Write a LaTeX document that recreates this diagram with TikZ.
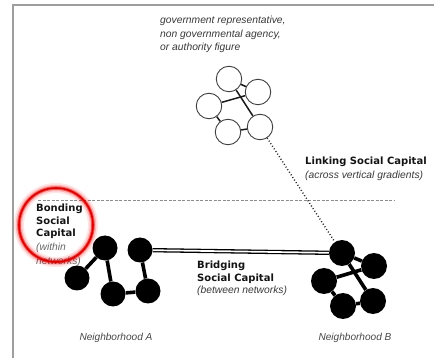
\documentclass[tikz,border=0pt]{standalone}
\usepackage{fontspec}
\setmainfont{Liberation Sans}
\newfontfamily\heavyfont{DejaVu Sans}
\begin{document}
\begin{tikzpicture}[x=1pt,y=-1pt,
  wnode/.style={circle,draw=black!75,fill=white,line width=0.9pt,minimum size=25.5pt,inner sep=0pt},
  bnode/.style={circle,fill=black,minimum size=25pt,inner sep=0pt},
  wedge/.style={line width=1.5pt,black!90},
  bedge/.style={line width=3.6pt,black},
  itext/.style={font=\fontsize{10.3}{13.5}\selectfont\itshape,text=black!78,align=left,inner sep=0pt},
  btext/.style={font=\heavyfont\fontsize{10}{12.6}\selectfont\bfseries,text=black!92,align=left,inner sep=0pt},
  nlabel/.style={font=\fontsize{10.1}{11}\selectfont\itshape,text=black!72,inner sep=0pt}
]
\useasboundingbox (0,0) rectangle (434,358);
% frame
\draw[black!38,line width=1.3pt] (13,358) -- (13,5) -- (434,5);
% dashed separator
\coordinate (dl) at (38,200);
\coordinate (dr) at (395,200);
\draw[black!45,line width=0.6pt,dash pattern=on 3pt off 1.5pt] (dl) -- (dr);

% top text
\node[itext,anchor=north west] (gov) at (160,16) {government representative,\\non governmental agency,\\or authority figure};

% top network (white)
\node[wnode] (t1) at (229,79) {};
\node[wnode] (t2) at (258,92) {};
\node[wnode] (t3) at (209,106) {};
\node[wnode] (t4) at (228,132) {};
\node[wnode] (t5) at (260,127) {};
\draw[wedge] (t1) -- (t2);
\draw[wedge] (t3) -- (t2);
\draw[wedge] (t1) -- (t5);
\draw[wedge] (t3) -- (t4);
\draw[wedge] (t4) -- (t5);

% Neighborhood A (black)
\node[bnode] (a1) at (105,248) {};
\node[bnode] (a2) at (140,250) {};
\node[bnode] (a3) at (77,278) {};
\node[bnode] (a4) at (113,294) {};
\node[bnode] (a5) at (148,291) {};
\draw[bedge] (a1) -- (a3);
\draw[bedge] (a1) -- (a4);
\draw[bedge] (a4) -- (a5);
\draw[bedge] (a5) -- (a2);

% Neighborhood B (black)
\node[bnode,minimum size=26pt] (b1) at (342,253) {};
\node[bnode,minimum size=26pt] (b2) at (374,266) {};
\node[bnode,minimum size=26pt] (b3) at (324,281) {};
\node[bnode,minimum size=26pt] (b4) at (343,306) {};
\node[bnode,minimum size=26pt] (b5) at (373,301) {};
\draw[bedge] (b1) -- (b2);
\draw[bedge] (b3) -- (b2);
\draw[bedge] (b1) -- (b5);
\draw[bedge] (b3) -- (b4);
\draw[bedge] (b4) -- (b5);

% bridging double line
\draw[black,line width=1.3pt,double=white,double distance=1.7pt] (a2) -- (b1);
% linking dotted line
\draw[black!85,line width=1.4pt,dash pattern=on 1pt off 2.1pt] (t5) -- (b1);

% labels
\node[btext,anchor=north west] (link) at (305,157) {Linking Social Capital};
\node[itext,anchor=north west] (linksub) at (305,171) {(across vertical gradients)};

\node[btext,anchor=north west] (bridge) at (197,261) {Bridging\\Social Capital};
\node[itext,anchor=north west] (bridgesub) at (197,286) {(between networks)};

\node[btext,anchor=north west] (bond) at (36,204) {Bonding\\Social\\Capital};
\node[itext,text=black!60,anchor=north west] (bondsub) at (36,243) {(within\\networks)};

% red glow circle
\coordinate (glow) at (56,225);
\draw[red,opacity=0.10,line width=10pt] (glow) circle (37);
\draw[red,opacity=0.20,line width=6.5pt] (glow) circle (37);
\draw[red!90!black,opacity=0.55,line width=3.5pt] (glow) circle (37);
\draw[red!85!black,line width=1.6pt] (glow) circle (37);

\node[nlabel] (na) at (116,338) {Neighborhood A};
\node[nlabel] (nb) at (355,338) {Neighborhood B};
\end{tikzpicture}
\end{document}
